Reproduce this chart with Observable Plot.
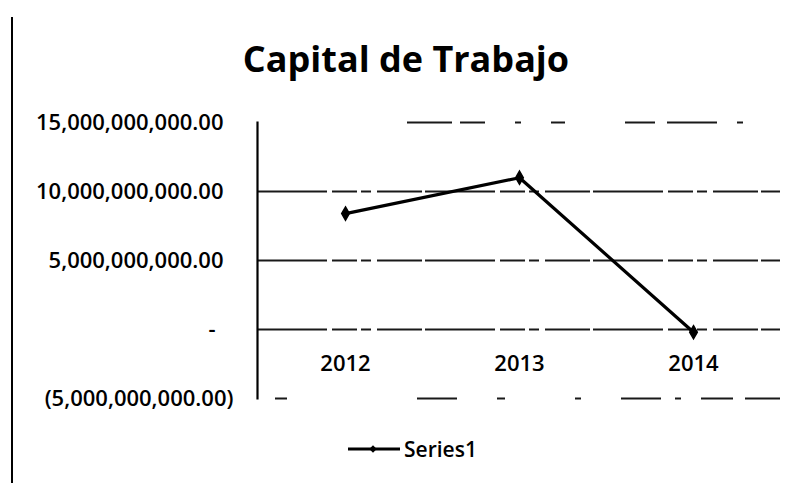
<!DOCTYPE html>
<html>
<head>
<meta charset="utf-8">
<script src="https://cdn.jsdelivr.net/npm/d3@7"></script>
<script src="https://cdn.jsdelivr.net/npm/@observablehq/plot@0.6"></script>
<style>
  html, body { margin: 0; padding: 0; background: #fff; }
  #wrap { position: relative; width: 791px; height: 483px; overflow: hidden; background: #fff; font-family: "Open Sans", sans-serif; color: #000; }
  #edge { position: absolute; left: 11px; top: 17px; width: 0; height: 466px; border-left: 2px solid #000; }
  #title { position: absolute; left: 206px; width: 400px; top: 41px; font-size: 36px; line-height: 36px; font-weight: 700; text-align: center; white-space: nowrap; }
  #plot { position: absolute; left: 0; top: 100px; }
  #legend { position: absolute; left: 346px; top: 438px; height: 22px; display: flex; align-items: center; font-size: 21px; line-height: 21px; font-weight: 600; white-space: nowrap; }
  #legend svg { display: block; margin-right: 4px; }
</style>
</head>
<body>
<div id="wrap">
  <div id="edge"></div>
  <div id="title">Capital de Trabajo</div>
  <div id="plot"></div>
  <div id="legend"></div>
</div>
<script>
const years = ["2012", "2013", "2014"];
const capital = [8.4e9, 11.0e9, -0.2e9];
const seriesName = "Series1";
const yTicks = [-5e9, 0, 5e9, 10e9, 15e9];
const yTickLabels = ["(5,000,000,000.00)", "-", "5,000,000,000.00", "10,000,000,000.00", "15,000,000,000.00"];

const rows = years.map((yr, i) => ({year: yr, value: capital[i]}));
const ticks = yTicks.map((v, i) => ({value: v, label: yTickLabels[i]}));

const chart = Plot.plot({
  width: 791,
  height: 320,
  marginTop: 22,
  marginBottom: 22,
  marginLeft: 257,
  marginRight: 11,
  style: {fontFamily: "Open Sans, sans-serif", fontSize: "22px", fontWeight: 600, color: "#000", background: "transparent", overflow: "visible"},
  x: {type: "point", domain: years, padding: 0.5, axis: null},
  y: {domain: [-5e9, 15e9], axis: null},
  marks: [
    Plot.gridY(yTicks.filter(v => v > -5e9 && v < 15e9), {stroke: "#000", strokeOpacity: 0.9, strokeWidth: 1.8, strokeDasharray: "70,5,25,4,10,6,45,3"}),
    Plot.gridY(yTicks.filter(v => v === 15e9), {stroke: "#000", strokeOpacity: 0.9, strokeWidth: 1.8, strokeDasharray: "0,150,45,8,25,30,6,30,14,60,30,12,50,20,6,26"}),
    Plot.gridY(yTicks.filter(v => v === -5e9), {stroke: "#000", strokeOpacity: 0.9, strokeWidth: 1.8, strokeDasharray: "0,18,12,130,40,40,8,70,6,40,40,14,6,20,14"}),
    Plot.frame({anchor: "left", stroke: "#000", strokeWidth: 2.2}),
    Plot.text(ticks.filter(d => d.value > 0), {y: "value", text: "label", frameAnchor: "left", textAnchor: "end", dx: -34, fontSize: 22}),
    Plot.text(ticks.filter(d => d.value === 0), {y: "value", text: "label", frameAnchor: "left", textAnchor: "end", dx: -42, fontSize: 22}),
    Plot.text(ticks.filter(d => d.value < 0), {y: "value", text: "label", frameAnchor: "left", textAnchor: "end", dx: -24, fontSize: 22}),
    Plot.text(years, {x: d => d, y: () => 0, text: d => d, dy: 34, fontSize: 22}),
    Plot.line(rows, {x: "year", y: "value", stroke: "#000", strokeWidth: 3.2}),
    Plot.dot(rows, {x: "year", y: "value", symbol: "diamond", r: 4, fill: "#000", stroke: "#000"})
  ]
});
document.getElementById("plot").appendChild(chart);

const legend = document.getElementById("legend");
const sw = d3.create("svg").attr("width", 54).attr("height", 20);
sw.append("line").attr("x1", 2).attr("x2", 54).attr("y1", 10).attr("y2", 10).attr("stroke", "#000").attr("stroke-width", 3);
sw.append("path").attr("d", d3.symbol(d3.symbolDiamond2, 36)()).attr("transform", "translate(27,10)").attr("fill", "#000");
legend.appendChild(sw.node());
const lt = document.createElement("span");
lt.textContent = seriesName;
legend.appendChild(lt);
</script>
</body>
</html>
